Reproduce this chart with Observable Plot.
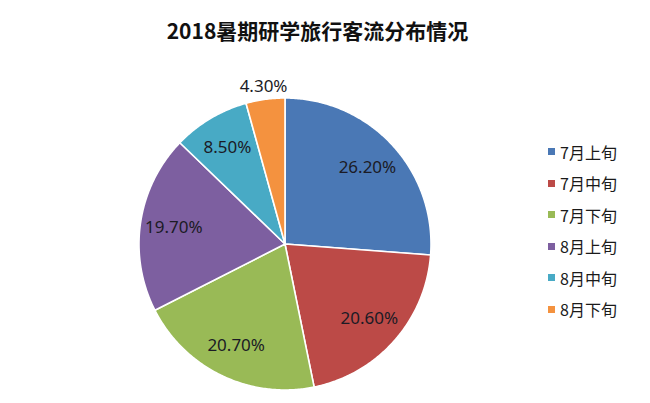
<!DOCTYPE html>
<html><head><meta charset="utf-8">
<script src="https://cdn.jsdelivr.net/npm/d3@7"></script>
<script src="https://cdn.jsdelivr.net/npm/@observablehq/plot@0.6"></script>
<style>
body{margin:0;background:#fff;font-family:"Noto Sans CJK SC","Noto Sans",sans-serif;}
#wrap{position:relative;width:650px;height:403px;overflow:hidden;}
#title{position:absolute;left:0;width:635px;top:15px;text-align:center;font-size:21px;font-weight:bold;color:#111;line-height:30px;}
#legend{position:absolute;left:548px;top:136px;}
.row{display:flex;align-items:center;height:31.5px;font-size:16px;color:#1a1a1a;}
.sw{width:7px;height:7px;margin-right:5px;}
#chart{position:absolute;left:0;top:0;}
</style></head><body>
<div id="wrap"><div id="chart"></div><div id="title">2018暑期研学旅行客流分布情况</div><div id="legend"></div></div>
<script>
const categories = ["7月上旬","7月中旬","7月下旬","8月上旬","8月中旬","8月下旬"];
const values = [26.2, 20.6, 20.7, 19.7, 8.5, 4.3];
const labels = ["26.20%","20.60%","20.70%","19.70%","8.50%","4.30%"];
const colors = ["#4A78B5","#BC4A47","#99BA56","#7D5FA0","#48AAC5","#F4923F"];

const arcs = d3.pie().sort(null).value(d => d)(values);
const pts = [];
arcs.forEach((a, i) => {
  const cat = categories[i];
  pts.push({cat, x: 0, y: 0});
  const n = Math.max(2, Math.ceil((a.endAngle - a.startAngle) / 0.01));
  for (let k = 0; k <= n; k++) {
    const t = a.startAngle + (a.endAngle - a.startAngle) * k / n;
    pts.push({cat, x: Math.sin(t), y: Math.cos(t)});
  }
  pts.push({cat, x: 0, y: 0});
});
const labelData = arcs.map((a, i) => {
  const m = (a.startAngle + a.endAngle) / 2;
  const f = values[i] < 5 ? 1.09 : 0.77;
  return {text: labels[i], x: Math.sin(m) * f, y: Math.cos(m) * f};
});

const cx = 284.5, cy = 243.5, r = 146;
const chart = Plot.plot({
  width: 650, height: 403,
  marginTop: 0, marginRight: 0, marginBottom: 0, marginLeft: 0,
  x: {domain: [-1, 1], range: [cx - r, cx + r], axis: null},
  y: {domain: [-1, 1], range: [cy + r, cy - r], axis: null},
  color: {domain: categories, range: colors},
  style: {fontFamily: "'Noto Sans','Noto Sans CJK SC',sans-serif", background: "#fff"},
  marks: [
    Plot.line(pts, {x: "x", y: "y", z: "cat", fill: "cat", stroke: "white", strokeWidth: 1.6, curve: "linear"}),
    Plot.text(labelData, {x: "x", y: "y", text: "text", fontSize: 17, fill: "#1b1b25"})
  ]
});
document.getElementById("chart").appendChild(chart);

const lg = document.getElementById("legend");
categories.forEach((c, i) => {
  const row = document.createElement("div");
  row.className = "row";
  const sw = document.createElement("div");
  sw.className = "sw";
  sw.style.background = colors[i];
  const tx = document.createElement("span");
  tx.textContent = c;
  row.appendChild(sw); row.appendChild(tx);
  lg.appendChild(row);
});
</script>
</body></html>
